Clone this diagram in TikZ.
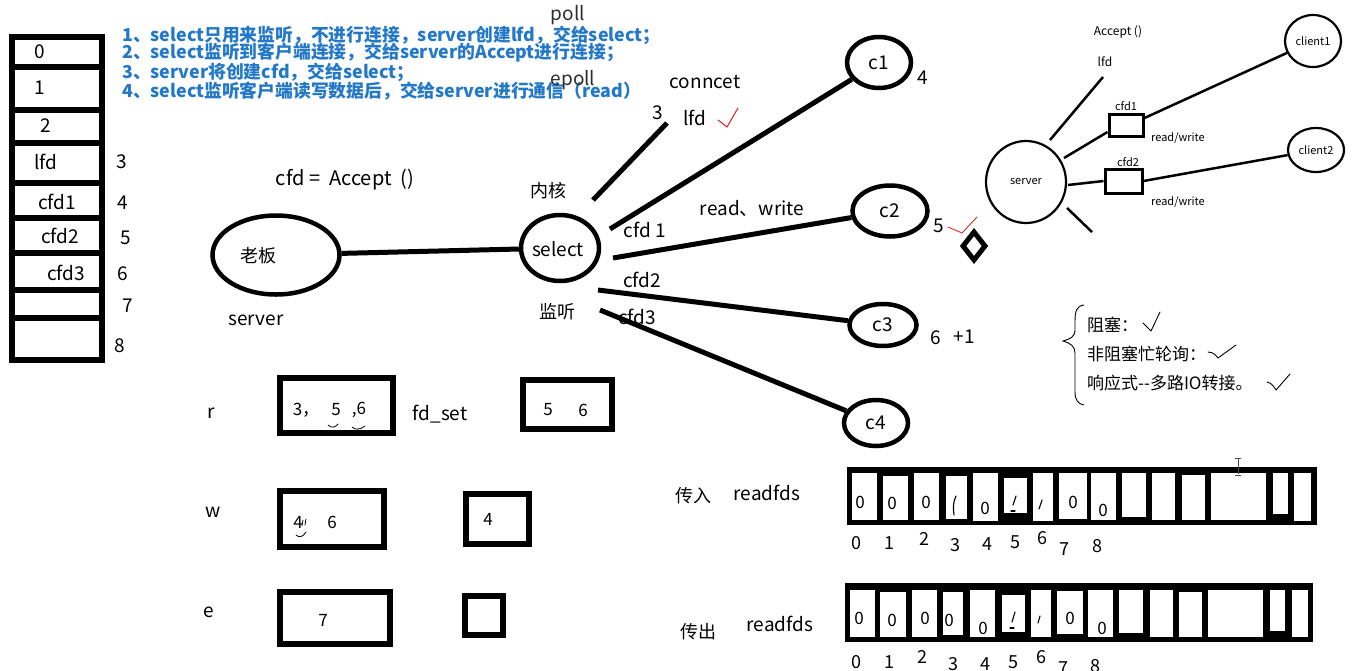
\documentclass[tikz,border=0pt]{standalone}
\usepackage{fontspec}
\setmainfont{Noto Sans CJK SC}
\usetikzlibrary{shapes.geometric}
\definecolor{bluetxt}{RGB}{35,120,200}
\definecolor{redchk}{RGB}{215,45,45}
\definecolor{pollgray}{RGB}{45,45,45}
\begin{document}
\begin{tikzpicture}[x=1pt,y=-1pt,
  lbl/.style={inner sep=0pt, font=\fontsize{19}{22}\selectfont},
  cjkl/.style={inner sep=0pt, font=\fontsize{18}{21}\selectfont},
  digit/.style={inner sep=0pt, font=\fontsize{17}{20}\selectfont},
  small/.style={inner sep=0pt, font=\fontsize{11}{13}\selectfont},
  bluel/.style={inner sep=0pt, anchor=west, text=bluetxt, font=\fontsize{17.8}{19}\selectfont\bfseries},
  listl/.style={inner sep=0pt, anchor=west, font=\fontsize{17}{19}\selectfont},
  bub/.style={draw, ellipse, line width=4.5pt, inner sep=0pt},
  minibub/.style={draw, ellipse, line width=2.2pt, inner sep=0pt, font=\fontsize{11}{13}\selectfont},
  wire/.style={line width=5pt},
  thinwire/.style={line width=2.5pt},
  fdbox/.style={draw, line width=5.5pt, inner sep=0pt},
  minibox/.style={draw, line width=3pt, inner sep=0pt},
  pen/.style={line width=1.1pt, line cap=round, line join=round},
]
\useasboundingbox (0,0) rectangle (1356,670);
\fill[white] (0,0) rectangle (1356,670);

% ---------- left fd table ----------
\node[fdbox, minimum width=90, minimum height=30] (k0) at (57,52) {};
\node[fdbox, minimum width=90, minimum height=43] (k1) at (57,88.5) {};
\node[fdbox, minimum width=90, minimum height=33] (k2) at (57,126.5) {};
\node[fdbox, minimum width=90, minimum height=40] (k3) at (57,163) {};
\node[fdbox, minimum width=90, minimum height=35] (k4) at (57,200.5) {};
\node[fdbox, minimum width=90, minimum height=35] (k5) at (57,235.5) {};
\node[fdbox, minimum width=90, minimum height=37] (k6) at (57,271.5) {};
\node[fdbox, minimum width=90, minimum height=28] (k7) at (57,304) {};
\node[fdbox, minimum width=90, minimum height=42] (k8) at (57,339) {};
\node[lbl] (k0t) at (40,52) {0};
\node[lbl] (k1t) at (40,88) {1};
\node[lbl] (k2t) at (46,126) {2};
\node[lbl] (k3t) at (46,162) {lfd};
\node[lbl] (k4t) at (57,202) {cfd1};
\node[lbl] (k5t) at (60,236) {cfd2};
\node[lbl] (k6t) at (66,273) {cfd3};
\node[lbl] (n3) at (122,162) {3};
\node[lbl] (n4) at (123,203) {4};
\node[lbl] (n5) at (126,238) {5};
\node[lbl] (n6) at (123,274) {6};
\node[lbl] (n7) at (128,306) {7};
\node[lbl] (n8) at (120,346) {8};

% ---------- blue notes ----------
\node[bluel] (b1) at (122,35) {1、select只用来监听，不进行连接，server创建lfd，交给select；};
\node[bluel] (b2) at (122,53) {2、select监听到客户端连接，交给server的Accept进行连接；};
\node[bluel] (b3) at (122,72) {3、server将创建cfd，交给select；};
\node[bluel] (b4) at (122,91) {4、select监听客户端读写数据后，交给server进行通信（read）};
\node[lbl, text=pollgray] (poll) at (568,15) {poll};
\node[lbl, text=pollgray] (epoll) at (573,80) {epoll};

% ---------- main graph ----------
\node[bub, minimum width=127, minimum height=79] (boss) at (276,255) {};
\node[cjkl] (bosst) at (258,256) {老板};
\node[lbl] (servert) at (256,320) {server};
\node[lbl, font=\fontsize{20}{23}\selectfont] (acc) at (345,180) {cfd =\ \ Accept\ \ ()};
\node[bub, minimum width=78, minimum height=66] (sel) at (560,248) {};
\node[lbl] (selt) at (558,249) {select};
\node[cjkl] (nh) at (548,191) {内核};
\node[cjkl] (jt) at (557,312) {监听};
\draw[wire] (boss) -- (sel);

\node[bub, minimum width=64, minimum height=51, lbl] (c1) at (879,62.5) {c1};
\node[bub, minimum width=75, minimum height=51, lbl] (c2) at (890,211) {c2};
\node[bub, minimum width=67, minimum height=42, lbl] (c3) at (883,325) {c3};
\node[bub, minimum width=64, minimum height=46, lbl] (c4) at (876,423) {c4};

\coordinate (l3a) at (593,200);
\coordinate (l3b) at (667,123);
\draw[wire] (l3a) -- (l3b);
\coordinate (s1) at (610,229);
\coordinate (s2) at (613,258);
\coordinate (s3) at (598,290);
\coordinate (s4) at (600,310);
\draw[wire] (s1) -- (c1);
\draw[wire] (s2) -- (c2);
\draw[wire] (s3) -- (c3);
\draw[wire] (s4) -- (c4);

\node[lbl] (conn) at (705,82) {conncet};
\node[lbl] (three) at (658,113) {3};
\node[lbl] (lfdt) at (695,118) {lfd};
\coordinate (rk1) at (718,120);
\coordinate (rk2) at (727,127);
\coordinate (rk3) at (738,108);
\draw[pen, redchk] (rk1) -- (rk2) -- (rk3);
\node[lbl] (rw) at (752,208) {read、write};
\node[lbl] (cfd1l) at (645,230) {cfd 1};
\node[lbl] (cfd2l) at (642,280) {cfd2};
\node[lbl] (cfd3l) at (637,317) {cfd3};
\node[lbl] (f4) at (923,78) {4};
\node[lbl] (f5) at (939,226) {5};
\node[lbl] (f6) at (936,338) {6};
\node[lbl] (f6p) at (964,337) {+1};
\coordinate (rt1) at (948,227);
\coordinate (rt2) at (962,233);
\coordinate (rt3) at (977,217);
\draw[pen, redchk, line width=0.9pt] (rt1) -- (rt2) -- (rt3);
\node[draw, diamond, line width=5pt, inner sep=0pt, minimum width=24, minimum height=30] (dia) at (974,246) {};

% ---------- mini server diagram ----------
\node[minibub, minimum width=80, minimum height=82] (ms) at (1026,182) {server};
\node[small, font=\fontsize{12}{14}\selectfont] (macc) at (1118,32) {Accept\ ()};
\node[small, font=\fontsize{12}{14}\selectfont] (mlfd) at (1105,62) {lfd};
\coordinate (ml1) at (1050,140);
\coordinate (ml2) at (1103,77);
\draw[thinwire] (ml1) -- (ml2);
\node[minibox, minimum width=34, minimum height=22] (mb1) at (1126,125) {};
\node[minibox, minimum width=37, minimum height=24] (mb2) at (1123.5,181) {};
\node[small] (mb1t) at (1126,106) {cfd1};
\node[small] (mb2t) at (1128,162) {cfd2};
\coordinate (mc1) at (1064,158);
\draw[thinwire] (mc1) -- (mb1.west |- 0,132);
\coordinate (mc2) at (1068,185);
\draw[thinwire] (mc2) -- (mb2.west);
\node[minibub, minimum width=56, minimum height=52] (cl1) at (1313,41) {client1};
\node[minibub, minimum width=56, minimum height=44] (cl2) at (1316,150) {client2};
\draw[thinwire] (mb1.east |- 0,118) -- (cl1);
\draw[thinwire] (mb2.east) -- (cl2);
\node[small] (mrw1) at (1178,138) {read/write};
\node[small] (mrw2) at (1178,202) {read/write};
\coordinate (mx1) at (1067,208);
\coordinate (mx2) at (1092,232);
\draw[thinwire] (mx1) -- (mx2);

% ---------- brace list ----------
\coordinate (br0) at (1084,305);
\coordinate (br1) at (1084,405);
\draw[line width=0.9pt] (br0) .. controls (1076,306) and (1075,312) .. (1075,322) -- (1075,330)
   .. controls (1075,337) and (1070,339) .. (1063,341) .. controls (1070,343) and (1075,346) .. (1075,353)
   -- (1075,392) .. controls (1075,400) and (1078,404) .. (br1);
\node[listl] (bl1) at (1087,325) {阻塞：};
\node[listl] (bl2) at (1087,354) {非阻塞忙轮询：};
\node[listl] (bl3) at (1087,383) {响应式-{}-多路IO转接。};
\draw[pen, line width=0.9pt] (1143,323) -- (1151,331) -- (1160,312);
\draw[pen, line width=0.9pt] (1208,352) .. controls (1214,352) and (1216,356) .. (1218,358) -- (1236,345);
\draw[pen, line width=0.9pt] (1267,382) .. controls (1272,383) and (1274,387) .. (1276,390) -- (1290,374);

% ---------- fd_set rows ----------
\node[lbl] (rr) at (211,413) {r};
\node[lbl] (ww) at (213,512) {w};
\node[lbl] (ee) at (209,612) {e};
\node[fdbox, minimum width=113, minimum height=55] (r1) at (336.5,405.5) {};
\node[fdbox, minimum width=89, minimum height=49] (r2) at (567.5,404.5) {};
\node[fdbox, minimum width=104, minimum height=56] (w1) at (332,519) {};
\node[fdbox, minimum width=63, minimum height=50] (w2) at (497.5,519) {};
\node[fdbox, minimum width=110, minimum height=52] (e1) at (335,618) {};
\node[fdbox, minimum width=38, minimum height=39] (e2) at (484,615.5) {};
\node[lbl] (fds) at (440,414) {fd\_set};
\node[digit] (r1a) at (306,410) {3，};
\node[digit] (r1b) at (336,410) {5};
\node[digit] (r1c) at (359,410) {,6};
\draw[pen, line width=0.8pt] (328,425) .. controls (331,428) and (335,428) .. (338,424);
\draw[pen, line width=0.8pt] (352,427) .. controls (355,430) and (360,430) .. (365,426);
\node[digit] (r2a) at (548,410) {5};
\node[digit] (r2b) at (583,410) {6};
\node[digit] (w1a) at (298,522) {4};
\node[digit] (w1b) at (332,522) {6};
\draw[pen, line width=0.8pt] (303,520) -- (302,526);
\draw[pen, line width=0.8pt] (306,519) -- (305,525);
\draw[pen, line width=0.8pt] (296,535) .. controls (299,538) and (303,537) .. (306,532);
\node[digit] (w2a) at (488,519) {4};
\node[digit] (e1a) at (323,620) {7};

% ---------- readfds bitmaps ----------
\node[cjkl] (in) at (693,496) {传入};
\node[lbl] (rf1) at (767,493) {readfds};
\node[cjkl] (out) at (698,632) {传出};
\node[lbl] (rf2) at (780,624) {readfds};
\node[fill=black, inner sep=0pt, minimum width=470, minimum height=58] (bm1) at (1082,496) {};
\node[fill=black, inner sep=0pt, minimum width=468, minimum height=59] (bm2) at (1079,612.5) {};
\foreach \a/\b/\c/\d in {852/473/877/520, 883/476/908/520, 914/473/939/520, 946/476/967/519,
  973/473/998/521, 1004/478/1027/513, 1033/473/1053/521, 1059/473/1087/519, 1091/473/1116/520,
  1122/473/1146/517, 1152/473/1175/520, 1182/475/1205/520, 1211/473/1266/520, 1273/473/1288/514,
  1294/473/1311/521}
  \fill[white] (\a,\b) rectangle (\c,\d);
\foreach \a/\b/\c/\d in {850/590/875/637, 880/592/906/637, 912/590/937/637, 943/592/963/635,
  970/590/995/637, 1002/595/1025/632, 1031/590/1051/637, 1057/591/1083/634, 1088/590/1113/637,
  1119/590/1143/633, 1150/590/1173/637, 1179/592/1202/637, 1208/590/1263/637, 1270/590/1285/631,
  1292/590/1308/637}
  \fill[white] (\a,\b) rectangle (\c,\d);
\foreach \x/\y in {860/502, 892/503, 926/502, 985/508, 1073/502, 1103/510}
  \node[digit] at (\x,\y) {0};
\foreach \x/\y in {859/618, 892/620, 925/618, 949/620, 983/628, 1070/618, 1102/628}
  \node[digit] at (\x,\y) {0};
\draw[pen] (956,496) .. controls (953,502) and (953,508) .. (954,515);
\draw[pen] (1016,496) -- (1013,505);
\draw[pen] (1011,511) -- (1015,511);
\draw[pen] (1042,500) -- (1039,509);
\draw[pen] (1015,612) -- (1012,622);
\draw[pen] (1010,628) -- (1014,628);
\draw[pen] (1040,616) -- (1038,623);
\foreach \x/\y/\t in {856/543/0, 889/543/1, 924/539/2, 955/545/3, 987/544/4, 1015/542/5, 1042/538/6, 1064/549/7, 1097/546/8}
  \node[lbl, font=\fontsize{18}{21}\selectfont] at (\x,\y) {\t};
\foreach \x/\y/\t in {856/662/0, 889/662/1, 922/657/2, 953/664/3, 985/664/4, 1013/662/5, 1041/657/6, 1063/668/7, 1095/666/8}
  \node[lbl, font=\fontsize{18}{21}\selectfont] at (\x,\y) {\t};
% text cursor
\draw[line width=0.8pt, black!70] (1238,459) -- (1238,474) (1235,458) -- (1241,458) (1235,475) -- (1241,475);
\end{tikzpicture}
\end{document}
